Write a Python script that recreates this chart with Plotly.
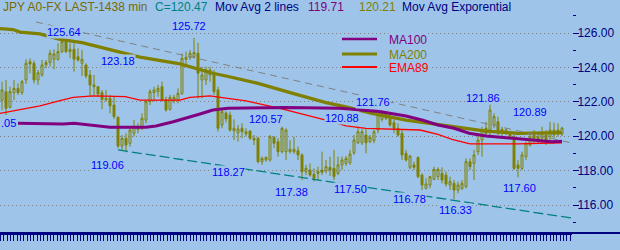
import plotly.graph_objects as go

# ---------------- data ----------------
bar_open = [122.10,122.59,121.68,122.53,122.78,122.53,123.27,124.33,124.24,123.27,
            123.56,124.14,124.28,124.47,124.47,124.92,125.50,124.92,125.05,124.62,
            124.24,124.14,123.56,122.88,122.88,122.53,122.11,122.20,121.81,121.10,
            119.43,119.88,119.59,120.17,120.40,120.46,120.94,122.01,122.53,122.59,
            122.88,122.11,121.56,122.07,122.11,122.49,124.47,124.59,124.62,124.82,
            123.27,123.27,123.56,123.56,122.69,120.65,121.35,121.23,120.32,120.20,
            120.46,120.13,120.30,119.88,119.88,118.52,118.62,118.62,119.93,119.68,
            119.10,119.10,119.10,119.10,119.16,118.91,117.94,118.03,117.78,117.84,
            118.03,117.98,118.19,118.13,117.84,118.33,118.42,118.46,119.04,119.62,
            119.62,120.07,119.68,119.74,120.36,120.98,121.33,121.17,120.79,120.46,
            120.17,119.00,118.19,118.33,118.77,117.74,116.97,117.16,117.49,117.65,
            117.84,117.74,117.16,117.26,116.87,116.97,117.07,118.52,118.42,119.10,
            119.78,120.46,120.36,120.65,120.84,120.40,120.17,120.17,119.97,118.33,
            118.13,118.81,119.49,120.07,119.97,119.88,120.07,119.97,120.07,120.36,
            120.13]
bar_high = [123.17,123.27,122.88,123.27,123.07,123.27,124.47,124.53,124.39,123.85,
            124.43,124.43,125.01,125.05,125.40,125.59,125.64,125.40,125.40,125.11,
            125.01,124.24,123.85,123.56,122.90,122.69,122.69,122.40,122.30,121.15,
            120.07,120.17,120.55,120.94,120.75,121.33,122.11,122.73,122.88,122.98,
            123.17,122.30,122.40,122.40,122.78,124.82,124.92,125.01,125.72,125.44,
            124.04,124.04,124.04,123.85,122.88,121.52,121.45,121.43,120.98,120.65,
            120.75,120.46,120.36,120.07,119.97,118.81,118.81,120.07,120.01,119.88,
            120.55,120.46,119.78,119.97,119.39,119.00,118.33,118.42,118.13,118.23,
            119.10,118.62,118.81,119.20,118.81,118.81,118.85,119.20,120.07,120.55,
            120.40,120.46,120.07,120.36,121.37,121.48,121.43,121.33,120.98,120.75,
            120.36,119.20,118.91,118.52,118.81,117.84,117.55,117.69,118.23,118.19,
            118.19,117.94,117.65,117.45,117.36,117.45,118.71,118.71,119.20,120.17,
            120.55,120.84,121.86,121.33,121.14,120.55,120.46,120.26,120.07,118.62,
            119.10,119.68,120.17,120.36,120.17,120.55,120.36,120.84,120.79,120.75,
            120.55]
bar_low = [121.52,121.23,121.62,122.11,122.40,122.40,123.04,123.66,123.07,122.98,
           123.46,123.95,124.04,123.89,124.39,124.82,124.82,124.53,123.75,124.33,
           123.50,123.37,122.30,122.40,122.30,121.56,122.01,121.33,121.00,119.30,
           119.20,119.06,119.39,119.97,120.17,120.36,120.75,121.81,122.01,122.30,
           122.01,121.43,121.49,121.91,121.91,122.40,124.14,124.43,124.53,122.20,
           122.20,122.98,123.17,122.40,120.27,120.46,120.80,120.26,119.78,119.68,
           119.88,119.97,119.78,119.49,118.42,118.33,118.52,118.52,119.30,118.81,
           119.00,118.62,119.00,118.97,118.62,117.45,117.74,117.65,117.36,117.45,
           117.74,117.84,117.69,117.45,117.74,118.03,118.27,118.33,118.91,119.55,
           119.49,119.00,119.59,119.59,120.17,120.84,120.94,120.55,120.17,119.97,
           118.62,118.52,118.07,118.03,117.55,116.87,116.91,116.97,117.45,117.45,
           117.26,117.07,116.87,116.33,116.68,116.87,116.97,118.03,117.45,118.91,
           118.81,119.97,120.07,120.46,120.07,119.97,120.07,119.88,118.03,117.60,
           118.03,118.62,119.39,119.59,119.59,119.59,119.49,119.68,119.88,119.97,
           120.01]
bar_close = [122.69,121.62,122.59,122.78,122.53,123.17,124.24,124.20,123.27,123.69,
             124.14,124.28,124.82,124.78,124.92,125.50,124.92,125.05,124.47,124.43,
             124.47,123.50,122.98,122.98,122.45,122.14,122.20,121.76,121.14,119.43,
             119.88,119.49,120.36,120.55,120.55,121.04,122.01,122.59,122.69,122.78,
             122.11,121.52,122.26,122.26,122.49,124.53,124.59,124.82,124.86,123.66,
             123.56,123.85,123.85,122.59,120.46,121.43,121.00,120.36,120.46,120.42,
             120.26,120.26,119.88,119.78,118.52,118.71,118.77,119.97,119.59,119.10,
             120.46,120.36,119.24,119.24,118.91,117.94,118.13,117.74,117.55,117.94,
             117.90,118.23,118.03,117.65,118.33,118.62,118.71,118.96,119.78,120.26,
             120.26,119.62,119.93,120.26,121.33,121.33,121.04,120.65,120.46,120.07,
             118.91,118.62,118.85,118.19,117.65,117.16,117.22,117.65,118.07,118.07,
             117.45,117.22,117.36,116.87,117.16,117.26,118.52,118.23,118.91,119.78,
             120.36,120.17,121.52,121.14,120.17,120.26,120.36,119.97,118.13,118.13,
             118.91,119.59,119.97,119.78,119.68,120.17,119.68,120.36,120.36,120.13,
             120.47]
bar_index = list(range(len(bar_close)))

ma200_x = [-0.5, 2.75, 4.5, 9.5, 11, 14.5, 20, 28, 34.5, 44.5, 52.7, 56, 64, 72.7,
           81, 85.7, 92.5, 101, 109, 114, 121, 129, 140]
ma200_y = [126.25, 126.20, 126.05, 125.95, 125.85, 125.63, 125.44, 125.00, 124.60,
           124.20, 123.66, 123.50, 123.07, 122.49, 121.95, 121.72, 121.33, 120.94,
           120.69, 120.52, 120.30, 120.17, 120.21]

ma100_x = [4, 15.3, 18, 22, 27, 36, 38.5, 42.8, 46, 49.5, 52.7, 56.5, 70.8, 84.5,
           94.3, 101, 105, 109, 113, 116.8, 121, 129, 137.5, 140]
ma100_y = [120.75, 120.71, 120.75, 120.65, 120.52, 120.52, 120.59, 120.84, 121.04,
           121.29, 121.52, 121.62, 121.67, 121.62, 121.43, 121.17, 120.94, 120.65,
           120.46, 120.17, 120.01, 119.85, 119.68, 119.71]

ema89_x = [-0.5, 4.5, 9.5, 14.5, 17.8, 22.8, 28.3, 30.8, 34.5, 44.5, 47, 52, 56,
           61, 69.5, 77, 81, 86, 91, 104.5, 109, 112.5, 117, 129, 140]
ema89_y = [121.33, 121.56, 121.76, 122.07, 122.26, 122.34, 122.30, 122.30, 122.10,
           122.10, 122.26, 122.34, 122.22, 122.05, 121.62, 121.20, 120.94, 120.60,
           120.46, 120.36, 120.10, 119.82, 119.55, 119.55, 119.62]

upper_trend_x = [8.5, 142.5]
upper_trend_y = [126.64, 119.60]
lower_trend_x = [29, 142.5]
lower_trend_y = [119.20, 115.24]

label_text = ["125.64", "125.72", "123.18", "120.57", "119.06", "118.27", "117.38",
              "117.50", "116.78", "116.33", "117.60", "121.76", "120.88", "121.86",
              "120.89"]
label_x = [15.5, 46.75, 29, 66, 26.25, 56.5, 72.25, 87, 101.75, 113.25, 129.25,
           92.75, 85, 120.25, 132]
label_y = [126.06, 126.41, 124.37, 121.00, 118.33, 117.92, 116.76, 116.93, 116.35,
           115.71, 116.99, 121.99, 121.06, 122.22, 121.41]

y_ticks = [116, 118, 120, 122, 124, 126]

header_parts = ["JPY A0-FX LAST-1438 min", "C=120.47", "Mov Avg 2 lines",
                "119.71", "120.21", "Mov Avg Exporential"]
legend_names = ["MA100", "MA200", "EMA89"]

# ---------------- style ----------------
BG = "#9EC5E9"
OLIVE = "#808000"
PURPLE = "#800080"
RED = "#FF0000"
NAVY = "#000080"
TEAL = "#008080"
BLUE = "#0000FF"
FONT = "Liberation Sans, Arial, sans-serif"

W, H = 620, 250
PLOT_W, PLOT_H = 572, 233


def px(x):
    return x / PLOT_W


def py(y):
    return 1 - y / PLOT_H


fig = go.Figure()

fig.add_trace(go.Candlestick(
    x=bar_index, open=bar_open, high=bar_high, low=bar_low, close=bar_close,
    increasing=dict(line=dict(color=OLIVE, width=1), fillcolor=BG),
    decreasing=dict(line=dict(color=OLIVE, width=1), fillcolor=OLIVE),
    whiskerwidth=0, showlegend=False, hoverinfo="skip"))

fig.add_trace(go.Scatter(x=ema89_x, y=ema89_y, mode="lines",
                         line=dict(color=RED, width=1.3), showlegend=False))
fig.add_trace(go.Scatter(x=ma200_x, y=ma200_y, mode="lines",
                         line=dict(color=OLIVE, width=3.3), showlegend=False))
fig.add_trace(go.Scatter(x=ma100_x, y=ma100_y, mode="lines",
                         line=dict(color=PURPLE, width=3), showlegend=False))
fig.add_trace(go.Scatter(x=upper_trend_x, y=upper_trend_y, mode="lines",
                         line=dict(color="#808080", width=1, dash="7px,5px"),
                         showlegend=False))
fig.add_trace(go.Scatter(x=lower_trend_x, y=lower_trend_y, mode="lines",
                         line=dict(color=TEAL, width=1.3, dash="10px,4px"),
                         showlegend=False))

annotations = []
for t, x, y in zip(label_text, label_x, label_y):
    annotations.append(dict(x=x, y=y, xref="x", yref="y", text=t, showarrow=False,
                            font=dict(family=FONT, size=11, color=BLUE),
                            bgcolor=BG, borderpad=0))
annotations.append(dict(x=0, y=120.77, xref="paper", yref="y", text=".05",
                        xanchor="left", showarrow=False, bgcolor=BG, borderpad=0,
                        font=dict(family=FONT, size=11, color=BLUE)))

header_left = [1, 153, 213, 306, 357, 400]
header_colors = ["#7A6A00", TEAL, NAVY, PURPLE, OLIVE, NAVY]
for t, xl, c in zip(header_parts, header_left, header_colors):
    annotations.append(dict(x=px(xl), y=py(7), xref="paper", yref="paper", text=t,
                            xanchor="left", yanchor="middle", showarrow=False,
                            font=dict(family=FONT, size=12, color=c)))

legend_colors = [PURPLE, OLIVE, RED]
legend_rows = [39, 54, 67]
legend_widths = [2.5, 3, 2]
shapes = []
for name, c, yy, lw in zip(legend_names, legend_colors, legend_rows, legend_widths):
    shapes.append(dict(type="line", xref="paper", yref="paper",
                       x0=px(342), x1=px(377), y0=py(yy), y1=py(yy),
                       line=dict(color=c, width=lw)))
    annotations.append(dict(x=px(388), y=py(yy + 1), xref="paper", yref="paper",
                            text=name, xanchor="left", yanchor="middle",
                            showarrow=False, bgcolor=BG, borderpad=0,
                            font=dict(family=FONT, size=12, color=c)))

# extend bottom axis line across the full width
shapes.append(dict(type="line", xref="paper", yref="paper", x0=0, x1=W / PLOT_W,
                   y0=0, y1=0, line=dict(color=NAVY, width=2)))

fig.update_layout(
    width=W, height=H,
    margin=dict(l=0, r=W - PLOT_W, t=0, b=H - PLOT_H, pad=0),
    paper_bgcolor=BG, plot_bgcolor=BG,
    showlegend=False,
    annotations=annotations, shapes=shapes,
    xaxis=dict(range=[-0.5, 142.5], rangeslider=dict(visible=False),
               showgrid=False, zeroline=False, showline=True, linecolor=NAVY,
               linewidth=2, ticks="outside", ticklen=6, tickwidth=1,
               tickcolor=NAVY, tick0=-0.4, dtick=0.833, showticklabels=False),
    yaxis=dict(range=[114.3721, 127.9186], side="right", tickvals=y_ticks,
               tickformat=".2f", ticks="outside", ticklen=6, tickwidth=1,
               tickcolor=NAVY, tickfont=dict(family=FONT, size=12, color=NAVY),
               ticklabelstandoff=-4,
               showgrid=True, gridcolor="#808080", gridwidth=1, griddash="1px,3px",
               zeroline=False, showline=False,
               minor=dict(tickvals=[115, 117, 119, 121, 123, 125, 127],
                          ticks="outside", ticklen=3, tickcolor=NAVY,
                          showgrid=False)),
)

fig.write_html("out.html")
